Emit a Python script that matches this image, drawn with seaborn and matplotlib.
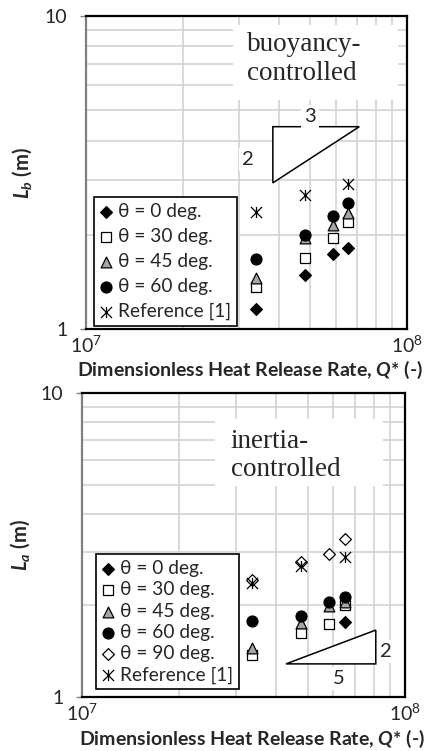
import numpy as np
import matplotlib
matplotlib.use("Agg")
import matplotlib.pyplot as plt
import seaborn as sns
from matplotlib.path import Path
from matplotlib.patches import Rectangle, Polygon
from matplotlib.ticker import FuncFormatter, NullFormatter

# ---------------- data ----------------
# Top panel: buoyancy-controlled length L_b
q_b = [3.39e7, 4.81e7, 5.89e7, 6.56e7]
lb_0 = [1.16, 1.49, 1.74, 1.81]
lb_30 = [1.365, 1.68, 1.95, 2.19]
lb_45 = [1.46, 1.95, 2.15, 2.34]
lb_60 = [1.67, 1.99, 2.30, 2.53]
q_b_ref = [3.39e7, 4.81e7, 6.56e7]
lb_ref = [2.36, 2.68, 2.90]

# Bottom panel: inertia-controlled length L_a
q_a = [3.37e7, 4.75e7, 5.82e7, 6.52e7]
la_0 = [np.nan, np.nan, np.nan, 1.77]
la_30 = [1.375, 1.62, 1.74, 2.00]
la_45 = [1.45, 1.75, 1.99, 2.06]
la_60 = [1.78, 1.85, 2.06, 2.13]
la_90 = [2.43, 2.77, 2.96, 3.32]
q_a_ref = [3.37e7, 4.75e7, 6.52e7]
la_ref = [2.37, 2.69, 2.88]

labels = {
    "0": "θ = 0 deg.", "30": "θ = 30 deg.", "45": "θ = 45 deg.",
    "60": "θ = 60 deg.", "90": "θ = 90 deg.", "ref": "Reference [1]",
}

# slope guides (ratio rise:run)
top_slope = (2, 3)
bot_slope = (2, 5)

# ---------------- style ----------------
sns.set_style("white")
plt.rcParams["font.family"] = ["Lato", "DejaVu Sans"]
plt.rcParams["mathtext.fontset"] = "custom"
plt.rcParams["mathtext.rm"] = "Lato"
plt.rcParams["mathtext.it"] = "Lato:italic"
plt.rcParams["mathtext.bf"] = "Lato:bold"
plt.rcParams["mathtext.bfit"] = "Lato:italic:bold"

star = Path([(-1, -1), (1, 1), (-1, 1), (1, -1), (0, -1), (0, 1)],
            [Path.MOVETO, Path.LINETO, Path.MOVETO, Path.LINETO,
             Path.MOVETO, Path.LINETO])

styles = {
    "0": dict(marker="D", s=36, color="black", edgecolor="black"),
    "30": dict(marker="s", s=55, color="white", edgecolor="black"),
    "45": dict(marker="^", s=60, color="#a6a6a6", edgecolor="black"),
    "60": dict(marker="o", s=62, color="black", edgecolor="black"),
    "90": dict(marker="D", s=36, color="white", edgecolor="black"),
    "ref": dict(marker=star, s=64, color="black", edgecolor="black"),
}

W, H = 427, 751
fig = plt.figure(figsize=(W / 100, H / 100), dpi=100)


def px_axes(l, t, r, b):
    return fig.add_axes([l / W, 1 - b / H, (r - l) / W, (b - t) / H])


ax1 = px_axes(86, 16, 407, 329)
ax2 = px_axes(82, 393, 405, 697)


def setup(ax):
    ax.set_xscale("log")
    ax.set_yscale("log")
    ax.set_xlim(1e7, 1e8)
    ax.set_ylim(1, 10)
    ax.grid(True, which="both", color="#d3d3d3", linewidth=1.2)
    ax.set_axisbelow(True)
    ax.yaxis.set_major_formatter(FuncFormatter(lambda v, p: f"{v:g}"))
    ax.yaxis.set_minor_formatter(NullFormatter())
    ax.xaxis.set_minor_formatter(NullFormatter())
    ax.tick_params(axis="y", which="major", left=True, length=4.5, width=1,
                   color="#808080", pad=9, labelsize=14)
    ax.tick_params(axis="y", which="minor", left=False, length=0)
    ax.tick_params(axis="x", which="both", bottom=False, length=0, pad=4,
                   labelsize=14)
    for side in ["top", "right", "bottom"]:
        ax.spines[side].set_color("black")
        ax.spines[side].set_linewidth(1.6)
    ax.spines["left"].set_color("#7f7f7f")
    ax.spines["left"].set_linewidth(1.6)


def draw(ax, x, y, key):
    sns.scatterplot(x=x, y=y, ax=ax, label=labels[key], linewidth=0.9,
                    zorder=4, **styles[key])


def slope_triangle(ax, x0, x1, y0, rise_run, corner):
    rise, run = rise_run
    y1 = y0 * (x1 / x0) ** (rise / run)
    if corner == "upper left":
        pts = [(x0, y0), (x1, y1), (x0, y1)]
    else:
        pts = [(x0, y0), (x1, y1), (x1, y0)]
    ax.add_patch(Polygon(pts, closed=True, facecolor="white",
                         edgecolor="black", linewidth=1.1, zorder=3))


def box_text(ax, x, y, s, size=14.5):
    ax.text(x, y, s, fontsize=size, ha="center", va="center", zorder=3,
            bbox=dict(boxstyle="square,pad=0.15", fc="white", ec="none"))


def add_legend(ax, anchor, spacing):
    leg = ax.legend(loc="lower left", bbox_to_anchor=anchor,
                    borderaxespad=0, fontsize=13.8, frameon=True,
                    fancybox=False, framealpha=1, edgecolor="black",
                    handlelength=0.65, handletextpad=0.3,
                    labelspacing=spacing, borderpad=0.3, scatterpoints=1)
    leg.get_frame().set_linewidth(1.2)
    leg.set_zorder(5)
    return leg


XLABEL = r"Dimensionless Heat Release Rate, $\mathbfit{Q}$* (-)"

# ---------------- top panel ----------------
setup(ax1)
ax1.add_patch(Rectangle((0.458, 0.732), 0.514, 0.239, transform=ax1.transAxes,
                        facecolor="white", edgecolor="none", zorder=1))
ax1.text(0.5016, 0.862, "buoyancy-\ncontrolled", transform=ax1.transAxes,
         family="Liberation Serif", fontsize=19.5, ha="left", va="center",
         linespacing=1.18, zorder=3)
slope_triangle(ax1, 3.82e7, 7.10e7, 2.93, top_slope, "upper left")
box_text(ax1, 4.99e7, 4.76, str(top_slope[1]))
box_text(ax1, 3.20e7, 3.49, str(top_slope[0]))
draw(ax1, q_b, lb_0, "0")
draw(ax1, q_b, lb_30, "30")
draw(ax1, q_b, lb_45, "45")
draw(ax1, q_b, lb_60, "60")
draw(ax1, q_b_ref, lb_ref, "ref")
add_legend(ax1, (0.026, 0.01), 0.42)
ax1.set_xlabel(XLABEL, fontsize=14, fontweight="bold")
ax1.set_ylabel(r"$\mathbfit{L}_{\mathbfit{b}}$ (m)", fontsize=14.5,
               fontweight="bold")
ax1.xaxis.set_label_coords(0.511, -0.131)
ax1.xaxis.label.set_va("center")
ax1.yaxis.set_label_coords(-0.199, 0.5)
ax1.yaxis.label.set_va("center")

# ---------------- bottom panel ----------------
setup(ax2)
ax2.add_patch(Rectangle((0.412, 0.693), 0.52, 0.22, transform=ax2.transAxes,
                        facecolor="white", edgecolor="none", zorder=1))
ax2.text(0.461, 0.795, "inertia-\ncontrolled", transform=ax2.transAxes,
         family="Liberation Serif", fontsize=19.5, ha="left", va="center",
         linespacing=1.18, zorder=3)
slope_triangle(ax2, 4.28e7, 8.12e7, 1.285, bot_slope, "lower right")
box_text(ax2, 8.74e7, 1.41, str(bot_slope[0]))
box_text(ax2, 6.22e7, 1.152, str(bot_slope[1]))
draw(ax2, q_a, la_0, "0")
draw(ax2, q_a, la_30, "30")
draw(ax2, q_a, la_45, "45")
draw(ax2, q_a, la_60, "60")
draw(ax2, q_a, la_90, "90")
draw(ax2, q_a_ref, la_ref, "ref")
add_legend(ax2, (0.043, 0.025), 0.22)
ax2.set_xlabel(XLABEL, fontsize=14, fontweight="bold")
ax2.set_ylabel(r"$\mathbfit{L}_{\mathbfit{a}}$ (m)", fontsize=14.5,
               fontweight="bold")
ax2.xaxis.set_label_coords(0.526, -0.138)
ax2.xaxis.label.set_va("center")
ax2.yaxis.set_label_coords(-0.192, 0.5)
ax2.yaxis.label.set_va("center")

fig.savefig("out.png", dpi=100)
